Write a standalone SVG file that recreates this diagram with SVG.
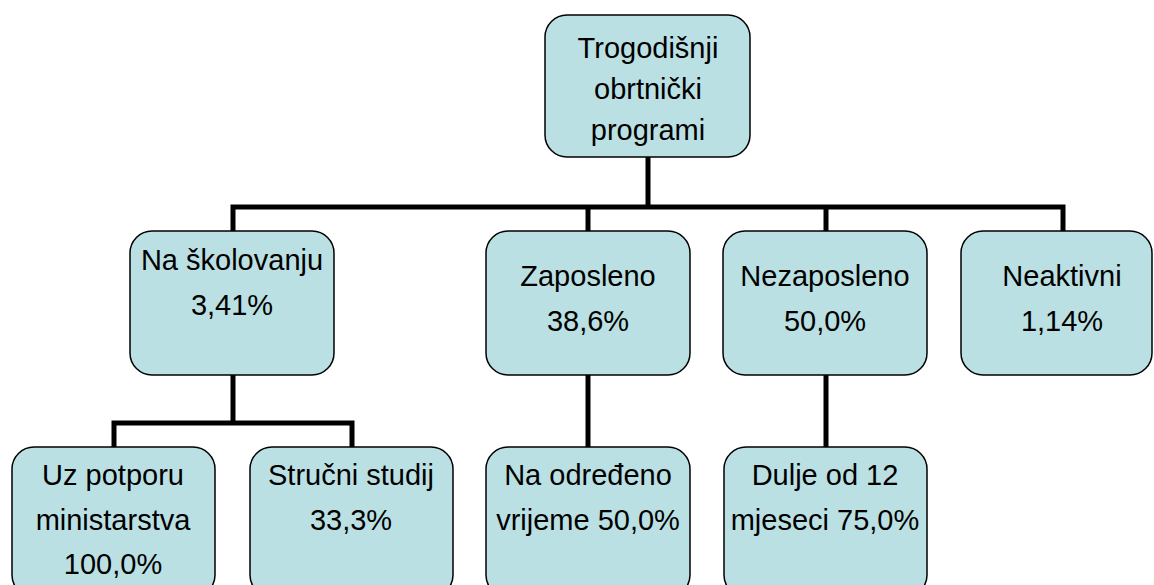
<svg xmlns="http://www.w3.org/2000/svg" width="1154" height="585" viewBox="0 0 1154 585">
<style>
.box{fill:#BBE0E3;stroke:#000;stroke-width:1.5}
.t{font-family:"Liberation Sans",Arial,sans-serif;font-size:29px;fill:#000;text-anchor:middle}
.c{fill:none;stroke:#000;stroke-width:5;stroke-linejoin:miter}
</style>
<rect width="1154" height="585" fill="#fff"/>
<g id="connectors">
<path class="c" d="M648,157 V207"/>
<path class="c" d="M233,231 V207 H1063 V231"/>
<path class="c" d="M588,207 V231"/>
<path class="c" d="M826,207 V231"/>
<path class="c" d="M233,375 V423"/>
<path class="c" d="M114,447 V423 H352 V447"/>
<path class="c" d="M588,375 V447"/>
<path class="c" d="M826,375 V447"/>
</g>
<g id="n-root">
<rect class="box" x="545" y="15" width="205" height="142" rx="22"/>
<text class="t" x="648" y="58">Trogodišnji</text>
<text class="t" x="648" y="99">obrtnički</text>
<text class="t" x="648" y="140">programi</text>
</g>
<g id="n-skolovanje">
<rect class="box" x="130" y="231" width="204" height="144" rx="22"/>
<text class="t" x="232" y="270">Na školovanju</text>
<text class="t" x="232" y="315">3,41%</text>
</g>
<g id="n-zaposleno">
<rect class="box" x="486" y="231" width="204" height="144" rx="22"/>
<text class="t" x="588" y="286">Zaposleno</text>
<text class="t" x="588" y="331">38,6%</text>
</g>
<g id="n-nezaposleno">
<rect class="box" x="723" y="231" width="204" height="144" rx="22"/>
<text class="t" x="825" y="286">Nezaposleno</text>
<text class="t" x="825" y="331">50,0%</text>
</g>
<g id="n-neaktivni">
<rect class="box" x="961" y="231" width="191" height="144" rx="22"/>
<text class="t" x="1062" y="286">Neaktivni</text>
<text class="t" x="1062" y="331">1,14%</text>
</g>
<g id="n-potpora">
<rect class="box" x="12" y="447" width="203" height="150" rx="22"/>
<text class="t" x="113" y="485">Uz potporu</text>
<text class="t" x="113" y="530">ministarstva</text>
<text class="t" x="113" y="574">100,0%</text>
</g>
<g id="n-strucni">
<rect class="box" x="250" y="447" width="203" height="150" rx="22"/>
<text class="t" x="351" y="485">Stručni studij</text>
<text class="t" x="351" y="530">33,3%</text>
</g>
<g id="n-odredeno">
<rect class="box" x="486" y="447" width="204" height="150" rx="22"/>
<text class="t" x="588" y="485">Na određeno</text>
<text class="t" x="588" y="530">vrijeme 50,0%</text>
</g>
<g id="n-dulje">
<rect class="box" x="724" y="447" width="203" height="150" rx="22"/>
<text class="t" x="825" y="485">Dulje od 12</text>
<text class="t" x="825" y="530">mjeseci 75,0%</text>
</g>
</svg>
